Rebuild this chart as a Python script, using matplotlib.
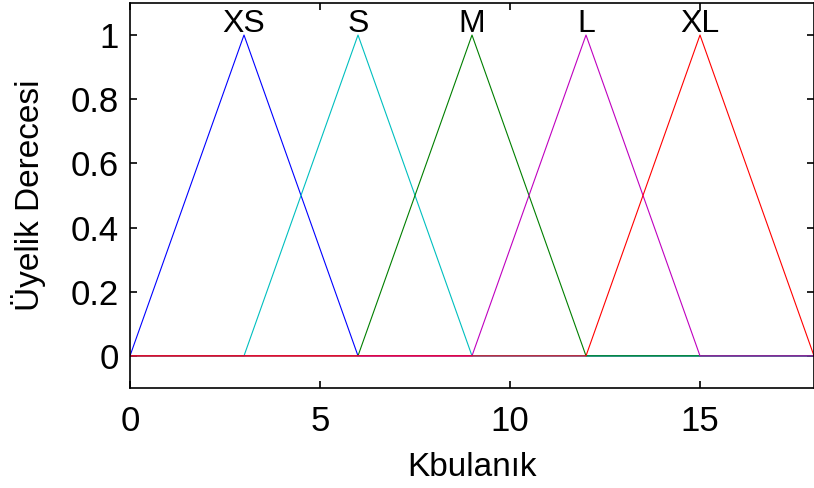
import numpy as np
import matplotlib
matplotlib.use("Agg")
import matplotlib.pyplot as plt

plt.rcParams['font.family'] = ['Liberation Sans', 'DejaVu Sans']

# membership function parameters (triangles: left foot, peak, right foot)
mf_names = ['XS', 'S', 'M', 'L', 'XL']
mf_left = [0, 3, 6, 9, 12]
mf_peak = [3, 6, 9, 12, 15]
mf_right = [6, 9, 12, 15, 18]
mf_colors = ['#0000ff', '#00bfbf', '#007f00', '#bf00bf', '#ff0000']

x_range = [0, 18]
x_ticks = [0, 5, 10, 15]
y_ticks = [0, 0.2, 0.4, 0.6, 0.8, 1]

fig = plt.figure(figsize=(8.14, 4.88), dpi=100)
ax = fig.add_axes([0.1597, 0.205, 0.8403, 0.789])

x = np.linspace(x_range[0], x_range[1], 1801)
for name, a, b, c, col in zip(mf_names, mf_left, mf_peak, mf_right, mf_colors):
    y = np.interp(x, [x_range[0], a, b, c, x_range[1]], [0, 0, 1, 0, 0])
    ax.plot(x, y, color=col, lw=0.8)
    ax.text(b, 1.01, name, ha='center', va='baseline', fontsize=23)

ax.set_xlim(x_range)
ax.set_ylim(-0.1, 1.1)
ax.set_xticks(x_ticks)
ax.set_yticks(y_ticks)
ax.set_yticklabels(['0', '0.2', '0.4', '0.6', '0.8', '1'])
ax.tick_params(direction='in', length=5, width=1.2, top=True, right=True,
               labelsize=25)
ax.tick_params(axis='x', pad=12)
ax.tick_params(axis='y', pad=8)
for s in ax.spines.values():
    s.set_linewidth(1.2)

ax.set_xlabel('Kbulanık', fontsize=24, labelpad=10)
ax.set_ylabel('Üyelik Derecesi', fontsize=24, labelpad=18)

fig.savefig('out.png', dpi=100)
